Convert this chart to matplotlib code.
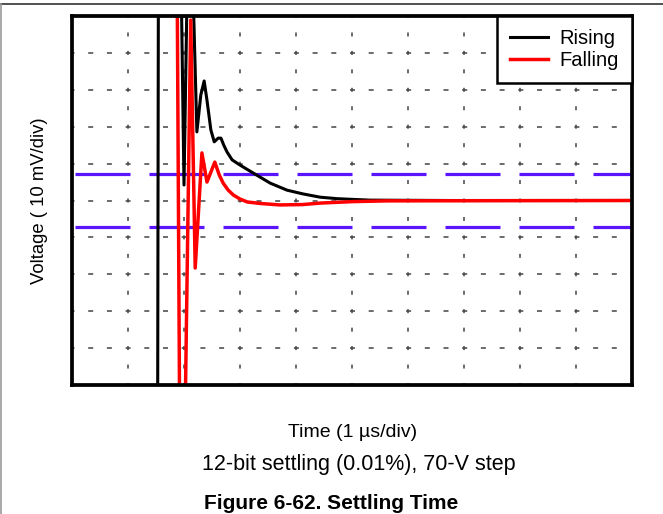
import matplotlib
matplotlib.use("Agg")
import matplotlib.pyplot as plt
from matplotlib.lines import Line2D

plt.rcParams['font.family'] = ['Liberation Sans', 'DejaVu Sans']
plt.rcParams['lines.scale_dashes'] = False

# time and voltage in divisions (10 div wide, +/-5 div tall, 0 = final value)
rise_t = [0.0, 1.527, 1.545, 1.93, 2.0, 2.08, 2.12, 2.23, 2.30, 2.36, 2.41, 2.48, 2.54,
          2.61, 2.66, 2.71, 2.77, 2.86, 3.0, 3.23, 3.54, 3.84, 4.12, 4.43, 4.73,
          5.02, 5.32, 6.75, 10.0]
rise_v = [-8.0, -8.0, 8.0, 8.0, 0.42, 8.0, 8.0, 1.86, 2.86, 3.24, 2.72, 1.91, 1.59,
          1.69, 1.69, 1.50, 1.31, 1.10, 0.96, 0.75, 0.47, 0.28, 0.18, 0.09, 0.05,
          0.03, 0.01, 0.0, 0.0]

fall_t = [0.0, 1.87, 1.93, 2.0, 2.12, 2.2, 2.32, 2.41, 2.55, 2.63, 2.70, 2.79, 2.88,
          3.0, 3.13, 3.36, 3.71, 4.12, 4.43, 5.02, 5.63, 10.0]
fall_v = [8.0, 8.0, -8.0, -8.0, 4.89, -1.83, 1.29, 0.50, 1.04, 0.69, 0.47, 0.28, 0.15,
          0.04, -0.04, -0.08, -0.12, -0.11, -0.07, -0.03, -0.01, 0.0]

band = 0.71  # settling window, div

W, H = 663, 514
fig = plt.figure(figsize=(W / 100, H / 100), dpi=100)
ax = fig.add_axes([72 / W, 1 - 385 / H, (632 - 72) / W, (385 - 16) / H])
ax.set_xlim(0, 10)
ax.set_ylim(-5, 5)
ax.set_xticks([])
ax.set_yticks([])
for s in ax.spines.values():
    s.set_linewidth(2.7)
    s.set_zorder(6)

pt = 0.72  # px -> pt
for y in range(-4, 5):
    ax.axhline(y, color='#444444', lw=1.1, ls=(2.5 * pt, (5 * pt, 13.7 * pt)), zorder=1)
for x in range(1, 10):
    ax.axvline(x, color='#444444', lw=1.1, ls=(2 * pt, (4 * pt, 14.45 * pt)), zorder=1)

for y in (band, -band):
    ax.axhline(y, color='#5a14ff', lw=2.3, ls=(71 * pt, (55 * pt, 19 * pt)), zorder=2)

ax.plot(rise_t, rise_v, color='black', lw=2.2, label='Rising', zorder=3)
ax.plot(fall_t, fall_v, color='#ff0000', lw=2.5, label='Falling', zorder=4)

leg = ax.legend(loc='upper right', fontsize=14.5, frameon=True, fancybox=False,
                edgecolor='black', framealpha=1, borderaxespad=0, borderpad=0.65,
                handlelength=1.9, handletextpad=0.55, labelspacing=0.15)
leg.get_frame().set_linewidth(1.8)
leg.set_zorder(7)

fig.text(40 / W, 1 - 201 / H, 'Voltage ( 10 mV/div)', rotation=90, fontsize=13.3,
         ha='center', va='center')
fig.text(353 / W, 1 - 437 / H, 'Time (1 µs/div)', fontsize=14, ha='center', va='baseline')
fig.text(202 / W, 1 - 470 / H, '12-bit settling (0.01%), 70-V step', fontsize=15.5,
         ha='left', va='baseline')
fig.text(204 / W, 1 - 509 / H, 'Figure 6-62. Settling Time', fontsize=15,
         fontweight='bold', ha='left', va='baseline')

fig.add_artist(Line2D([0, 1], [1 - 3.5 / H, 1 - 3.5 / H], color='#333333', lw=1.2,
                      transform=fig.transFigure))
fig.add_artist(Line2D([1 / W, 1 / W], [0, 1 - 3.5 / H], color='#999999', lw=1.2,
                      transform=fig.transFigure))

fig.savefig('out.png', dpi=100)
